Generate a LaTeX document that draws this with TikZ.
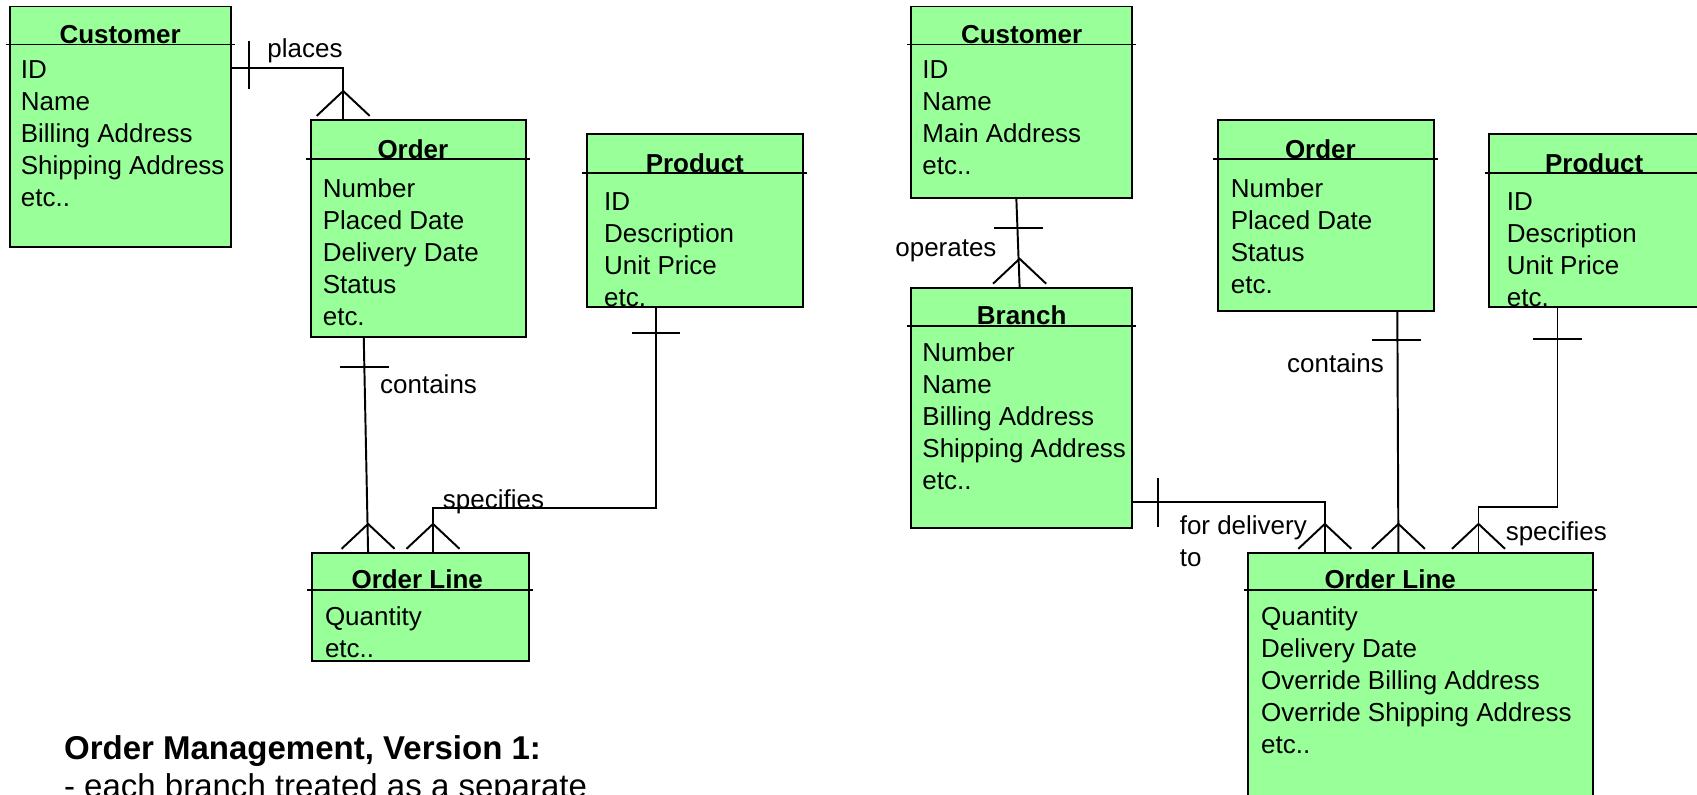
\documentclass[tikz,border=0pt]{standalone}
\usepackage{fontspec}
\setmainfont{Liberation Sans}
\usetikzlibrary{positioning}
\definecolor{ergreen}{RGB}{153,255,153}

\begin{document}
\begin{tikzpicture}
    [x=1pt, y=-1pt,
    % STYLES
    % The entity style draws the green box of a table
    entity/.style={rectangle, draw, fill=ergreen, line width=1.8pt, inner sep=0pt},
    % The head style is used for the name of the table
    head/.style={anchor=base, inner sep=0pt, font=\fontsize{24}{29.6}\selectfont\bfseries},
    % The attr style lists the fields of a table
    attr/.style={align=left, inner sep=0pt, font=\fontsize{24}{29.6}\selectfont},
    rel/.style={line width=1.8pt},
    relname/.style={anchor=base west, inner sep=0pt, font=\fontsize{24}{29.6}\selectfont},
    % crow's foot (many) and bar (one) ends
    crowfoot/.pic={\draw[rel] (-24.5,-3) -- (0,-26) -- (24.5,-3);},
    barh/.pic={\draw[rel] (-22.5,0) -- (22.5,0);},
    barv/.pic={\draw[rel] (0,-22.5) -- (0,22.5);}]

    \useasboundingbox (0,0) rectangle (1568,734);

    % Version 1
    \node [entity, minimum width=204pt, minimum height=222pt] (custA) at (111,117) {};
    \draw [rel] ([xshift=-3pt,yshift=-36pt]custA.north west) -- ([xshift=3pt,yshift=-36pt]custA.north east);
    \node [head] (custAname) at ([yshift=-35pt]custA.north) {Customer};
    \node [attr, below right=51pt and 11pt of custA.north west] (custAattr) {ID\\Name\\Billing Address\\Shipping Address\\etc..};

    \node [entity, minimum width=199pt, minimum height=200pt] (ordA) at (386.5,211) {};
    \draw [rel] ([xshift=-3pt,yshift=-37pt]ordA.north west) -- ([xshift=3pt,yshift=-37pt]ordA.north east);
    \node [head] (ordAname) at ([xshift=-5pt,yshift=-36pt]ordA.north) {Order};
    \node [attr, below right=54.5pt and 12pt of ordA.north west] (ordAattr) {Number\\Placed Date\\Delivery Date\\Status\\etc.};

    \node [entity, minimum width=200pt, minimum height=160pt] (prodA) at (642,204) {};
    \draw [rel] ([xshift=-3pt,yshift=-37pt]prodA.north west) -- ([xshift=3pt,yshift=-37pt]prodA.north east);
    \node [head] (prodAname) at ([yshift=-36pt]prodA.north) {Product};
    \node [attr, below right=54.5pt and 17pt of prodA.north west] (prodAattr) {ID\\Description\\Unit Price\\etc.};

    \node [entity, minimum width=201pt, minimum height=100pt] (lineA) at (388.5,561) {};
    \draw [rel] ([xshift=-3pt,yshift=-35pt]lineA.north west) -- ([xshift=3pt,yshift=-35pt]lineA.north east);
    \node [head] (lineAname) at ([xshift=-3pt,yshift=-34pt]lineA.north) {Order Line};
    \node [attr, below right=50.5pt and 13pt of lineA.north west] (lineAattr) {Quantity\\etc..};

    % Links of version 1
    \draw [rel] ([yshift=-58pt]custA.north east) -| ([xshift=31pt]ordA.north west);
    \pic at ([xshift=16pt,yshift=-55pt]custA.north east) {barv};
    \pic at ([xshift=31pt]ordA.north west) {crowfoot};
    \node [relname] (placesA) at ([xshift=33pt,yshift=-48pt]custA.north east) {places};

    \draw [rel] ([xshift=50pt]ordA.south west) -- ([xshift=53pt]lineA.north west);
    \pic at ([xshift=51pt,yshift=-27pt]ordA.south west) {barh};
    \pic at ([xshift=53pt]lineA.north west) {crowfoot};
    \node [relname] (containsA) at ([xshift=65pt,yshift=-52pt]ordA.south west) {contains};

    \draw [rel] ([xshift=65pt]prodA.south west) |- ([xshift=113pt,yshift=41pt]lineA.north west) -- ([xshift=113pt]lineA.north west);
    \pic at ([xshift=65pt,yshift=-23pt]prodA.south west) {barh};
    \pic at ([xshift=113pt]lineA.north west) {crowfoot};
    \node [relname] (specifiesA) at ([xshift=122pt,yshift=40pt]lineA.north west) {specifies};

    \node [anchor=north west, align=left, inner sep=0pt, font=\fontsize{30.5}{36}\selectfont] (versionA) at (59,679) {\textbf{Order Management, Version 1:}\\- each branch treated as a separate};

    % Version 2
    \node [entity, minimum width=204pt, minimum height=177pt] (custB) at (944,94.5) {};
    \draw [rel] ([xshift=-3pt,yshift=-36pt]custB.north west) -- ([xshift=3pt,yshift=-36pt]custB.north east);
    \node [head] (custBname) at ([yshift=-35pt]custB.north) {Customer};
    \node [attr, below right=51pt and 11pt of custB.north west] (custBattr) {ID\\Name\\Main Address\\etc..};

    \node [entity, minimum width=204pt, minimum height=222pt] (branchB) at (944,377) {};
    \draw [rel] ([xshift=-3pt,yshift=-36pt]branchB.north west) -- ([xshift=3pt,yshift=-36pt]branchB.north east);
    \node [head] (branchBname) at ([yshift=-35pt]branchB.north) {Branch};
    \node [attr, below right=51pt and 11pt of branchB.north west] (branchBattr) {Number\\Name\\Billing Address\\Shipping Address\\etc..};

    \node [entity, minimum width=200pt, minimum height=176pt] (ordB) at (1225,199) {};
    \draw [rel] ([xshift=-3pt,yshift=-37pt]ordB.north west) -- ([xshift=3pt,yshift=-37pt]ordB.north east);
    \node [head] (ordBname) at ([xshift=-5pt,yshift=-36pt]ordB.north) {Order};
    \node [attr, below right=54.5pt and 13pt of ordB.north west] (ordBattr) {Number\\Placed Date\\Status\\etc.};

    \node [entity, minimum width=200pt, minimum height=160pt] (prodB) at (1476,204) {};
    \draw [rel] ([xshift=-3pt,yshift=-37pt]prodB.north west) -- ([xshift=3pt,yshift=-37pt]prodB.north east);
    \node [head] (prodBname) at ([xshift=-3pt,yshift=-36pt]prodB.north) {Product};
    \node [attr, below right=54.5pt and 17pt of prodB.north west] (prodBattr) {ID\\Description\\Unit Price\\etc.};

    \node [entity, minimum width=319pt, minimum height=234pt] (lineB) at (1312.5,628) {};
    \draw [rel] ([xshift=-3pt,yshift=-35pt]lineB.north west) -- ([xshift=3pt,yshift=-35pt]lineB.north east);
    \node [head] (lineBname) at ([xshift=-28pt,yshift=-34pt]lineB.north) {Order Line};
    \node [attr, below right=50.5pt and 13pt of lineB.north west] (lineBattr) {Quantity\\Delivery Date\\Override Billing Address\\Override Shipping Address\\etc..};

    % Links of version 2
    \draw [rel] ([xshift=98pt]custB.south west) -- ([xshift=101pt]branchB.north west);
    \pic at ([xshift=100pt,yshift=-27pt]custB.south west) {barh};
    \pic at ([xshift=101pt]branchB.north west) {crowfoot};
    \node [relname] (operatesB) at ([xshift=-14pt,yshift=28pt]branchB.north west) {operates};

    \draw [rel] ([yshift=-199pt]branchB.north east) -| ([xshift=72pt]lineB.north west);
    \pic at ([xshift=23pt,yshift=-199.5pt]branchB.north east) {barv};
    \pic at ([xshift=72pt]lineB.north west) {crowfoot};
    \node [relname, anchor=north west, align=left] (deliveryB) at ([xshift=43pt,yshift=-211.5pt]branchB.north east) {for delivery\\to};

    \draw [rel] ([xshift=167pt]ordB.south west) -- ([xshift=140pt]lineB.north west);
    \pic at ([xshift=166.5pt,yshift=-26pt]ordB.south west) {barh};
    \pic at ([xshift=140pt]lineB.north west) {crowfoot};
    \node [relname] (containsB) at ([xshift=65pt,yshift=-56pt]ordB.south west) {contains};

    \draw [rel] ([xshift=64pt]prodB.south west) |- ([xshift=214pt,yshift=41.5pt]lineB.north west) -- ([xshift=214pt]lineB.north west);
    \pic at ([xshift=64pt,yshift=-28.5pt]prodB.south west) {barh};
    \pic at ([xshift=214pt]lineB.north west) {crowfoot};
    \node [relname] (specifiesB) at ([xshift=239pt,yshift=10.5pt]lineB.north west) {specifies};
\end{tikzpicture}
\end{document}
